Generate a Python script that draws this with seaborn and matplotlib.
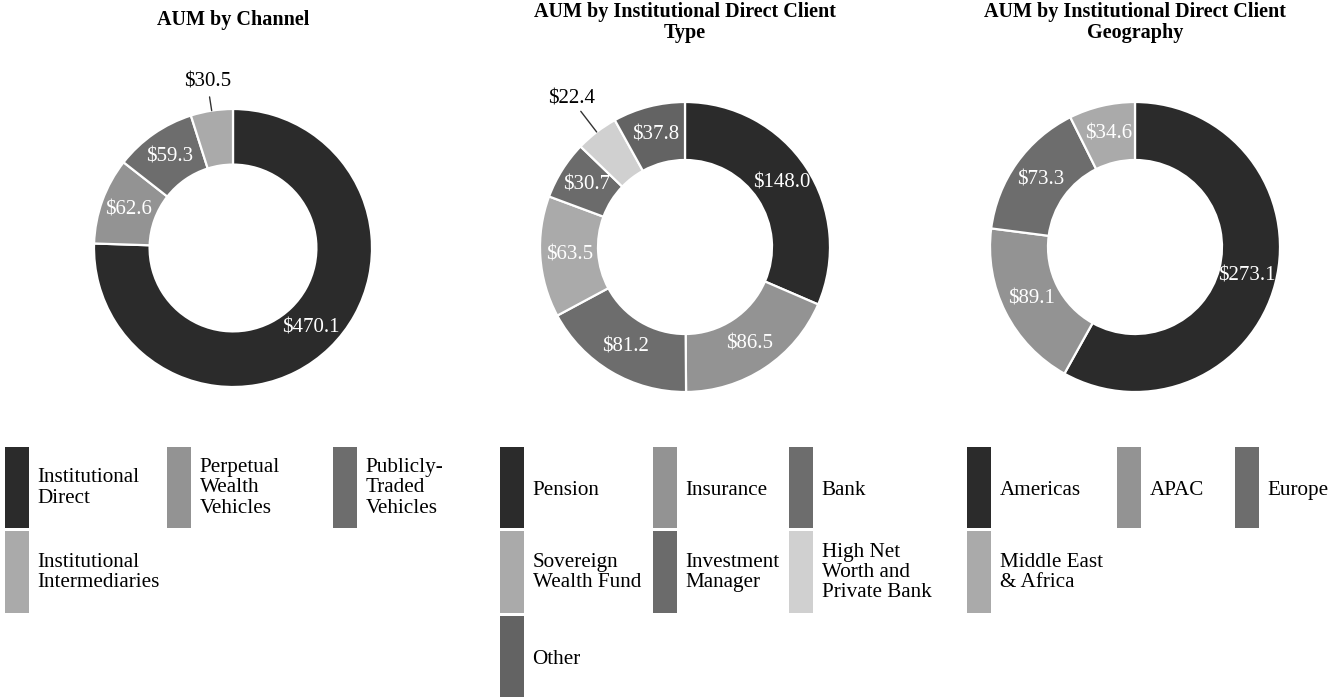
import numpy as np
import matplotlib
matplotlib.use('Agg')
import matplotlib.pyplot as plt
import seaborn as sns
from matplotlib.patches import Patch

sns.set_theme(style='white')
plt.rcParams['font.family'] = ['Liberation Serif', 'DejaVu Serif']
plt.rcParams['text.color'] = 'black'

# Data ($ billions)
channel_labels = ['Institutional\nDirect', 'Perpetual\nWealth\nVehicles', 'Publicly-\nTraded\nVehicles',
                  'Institutional\nIntermediaries']
channel_values = [470.1, 62.6, 59.3, 30.5]
channel_colors = ['#2b2b2b', '#939393', '#6d6d6d', '#aaaaaa']

client_labels = ['Pension', 'Insurance', 'Bank', 'Sovereign\nWealth Fund', 'Investment\nManager',
                 'High Net\nWorth and\nPrivate Bank', 'Other']
client_values = [148.0, 86.5, 81.2, 63.5, 30.7, 22.4, 37.8]
client_colors = ['#2b2b2b', '#939393', '#6d6d6d', '#aaaaaa', '#6b6b6b', '#d0d0d0', '#636363']

geo_labels = ['Americas', 'APAC', 'Europe', 'Middle East\n& Africa']
geo_values = [273.1, 89.1, 73.3, 34.6]
geo_colors = ['#2b2b2b', '#939393', '#6d6d6d', '#aaaaaa']

titles = ['AUM by Channel', 'AUM by Institutional Direct Client\nType',
          'AUM by Institutional Direct Client\nGeography']

W, H = 1328, 697
fig = plt.figure(figsize=(W / 100, H / 100), dpi=100)


def donut(cx, cy, R, values, colors, out_r=1.25):
    ax = fig.add_axes([(cx - R) / W, 1 - (cy + R) / H, 2 * R / W, 2 * R / H])
    wedges, _ = ax.pie(values, colors=colors, startangle=90, counterclock=False, radius=1,
                       wedgeprops=dict(width=0.4, edgecolor='white', linewidth=1.6))
    total = sum(values)
    for w, v in zip(wedges, values):
        ang = np.deg2rad((w.theta1 + w.theta2) / 2)
        c, s = np.cos(ang), np.sin(ang)
        txt = f'${v:.1f}'
        if v / total < 0.06:
            # small slice: label outside with a leader line
            ax.plot([c, (out_r - 0.11) * c], [s, (out_r - 0.11) * s], color='#333333', lw=1, clip_on=False)
            ax.text(out_r * c, out_r * s, txt, ha='center', va='center', fontsize=15, color='black')
        else:
            ax.text(0.8 * c, 0.8 * s, txt, ha='center', va='center', fontsize=15, color='white')
    ax.set_xlim(-1, 1)
    ax.set_ylim(-1, 1)
    ax.axis('off')
    return ax


donut(233, 248, 139, channel_values, channel_colors, out_r=1.21)
donut(685, 247, 145, client_values, client_colors, out_r=1.29)
donut(1135, 247, 145, geo_values, geo_colors)

fig.text(233 / W, 1 - 25 / H, titles[0], ha='center', va='baseline', fontsize=14.5, fontweight='bold')
for x, t in [(685, titles[1]), (1135, titles[2])]:
    fig.text(x / W, 1 - 2 / H, t, ha='center', va='top', fontsize=14.5,
             fontweight='bold', linespacing=1.07)

# legends: one legend per column so column positions can be matched
FS = 15.2
HH = 5.55
D = 0.35 * FS * (HH - 0.7)      # matplotlib's handle descent heuristic
HB = HH * FS - D                 # handle box height (pt)
TXT_C = 0.345 * FS               # visual centre of the label text above baseline
EXTRA_PX = ((TXT_C + HB / 2) - (HB - D)) * 100 / 72


def legend_column(x0, labels, colors, idx):
    handles = [Patch(facecolor=colors[i], edgecolor='none') for i in idx]
    labs = [labels[i] for i in idx]
    leg = fig.legend(handles, labs, loc='upper left',
                     bbox_to_anchor=(x0 / W, 1 - (447 + EXTRA_PX) / H),
                     ncol=1, frameon=False, fontsize=FS, handleheight=HH, handlelength=1.14,
                     handletextpad=0.4, labelspacing=0.14, borderpad=0, borderaxespad=0)
    for r in leg.legend_handles:
        r.set_y(TXT_C - HB / 2)
        r.set_height(HB)
    for t in leg.get_texts():
        t.set_linespacing(1.08)
        t.set_color('black')
    return leg


legend_column(5, channel_labels, channel_colors, [0, 3])
legend_column(167, channel_labels, channel_colors, [1])
legend_column(333, channel_labels, channel_colors, [2])

legend_column(500, client_labels, client_colors, [0, 3, 6])
legend_column(653, client_labels, client_colors, [1, 4])
legend_column(789, client_labels, client_colors, [2, 5])

legend_column(967, geo_labels, geo_colors, [0, 3])
legend_column(1117, geo_labels, geo_colors, [1])
legend_column(1235, geo_labels, geo_colors, [2])

fig.savefig('out.png', dpi=100, facecolor='white')
